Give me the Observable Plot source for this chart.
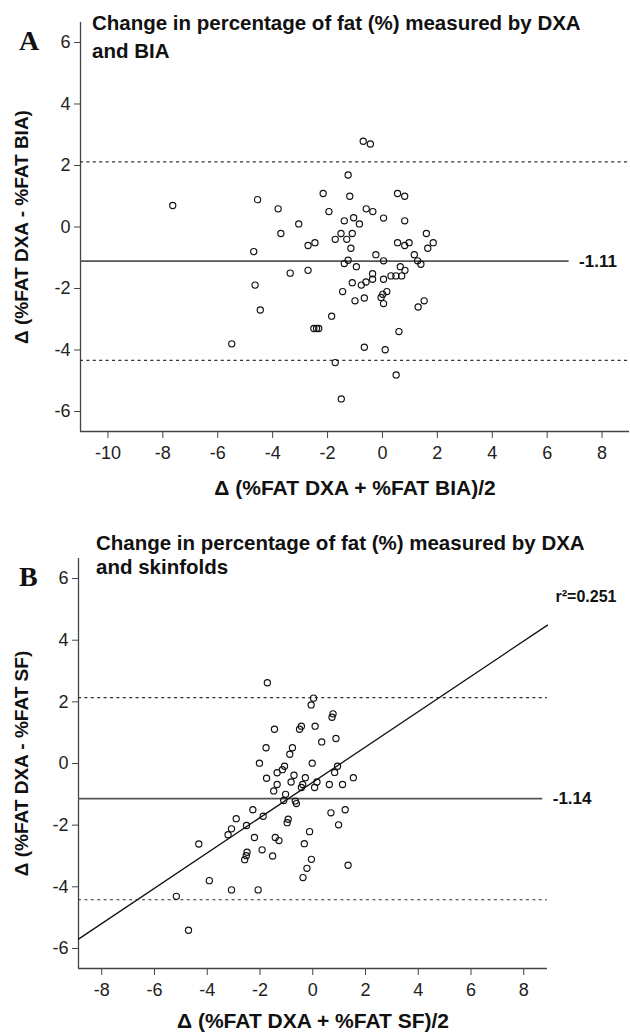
<!DOCTYPE html>
<html>
<head>
<meta charset="utf-8">
<script src="https://cdn.jsdelivr.net/npm/d3@7"></script>
<script src="https://cdn.jsdelivr.net/npm/@observablehq/plot@0.6"></script>
<style>
  html, body { margin: 0; padding: 0; background: #fff; }
  #page { position: relative; width: 630px; height: 1032px; overflow: hidden; background: #fff; }
  .panel { position: absolute; left: 0; }
  .title { position: absolute; font-family: "Liberation Sans", Arial, sans-serif; font-weight: bold; font-size: 20.5px; color: #111; white-space: nowrap; }
  .letter { position: absolute; font-family: "Liberation Serif", "Times New Roman", serif; font-weight: bold; font-size: 28px; color: #111; line-height: 1; }
</style>
</head>
<body>
<div id="page">
  <div class="panel" id="panelA" style="top:0px"></div>
  <div class="panel" id="panelB" style="top:505px"></div>
  <div class="letter" style="left:19px; top:27px">A</div>
  <div class="title" style="left:92px; top:9px; line-height:28px">Change in percentage of fat (%) measured by DXA<br>and BIA</div>
  <div class="letter" style="left:19px; top:563px">B</div>
  <div class="title" style="left:96px; top:531px; line-height:24px">Change in percentage of fat (%) measured by DXA<br>and skinfolds</div>
</div>
<script>
// ---------- data ----------
const yTicks = [-6, -4, -2, 0, 2, 4, 6];
const yDomain = [-6.65, 6.65];

// Panel A: DXA vs BIA
const xTicksA = [-10, -8, -6, -4, -2, 0, 2, 4, 6, 8];
const xDomainA = [-11, 9];
const pointsA = [
  [-7.64,0.70],[-5.49,-3.80],[-4.55,0.89],[-4.69,-0.80],[-4.64,-1.89],[-4.45,-2.70],
  [-3.80,0.59],[-3.70,-0.21],[-3.36,-1.50],[-3.05,0.10],[-2.71,-0.60],[-2.71,-1.41],
  [-2.46,-0.51],[-2.50,-3.30],[-2.40,-3.30],[-2.32,-3.30],[-2.16,1.09],[-1.95,0.50],
  [-1.85,-2.90],[-1.72,-0.40],[-1.72,-4.41],[-1.51,-0.21],[-1.50,-5.59],[-1.45,-2.10],
  [-1.39,0.20],[-1.39,-1.19],[-1.30,-0.40],[-1.25,1.69],[-1.25,-1.08],[-1.19,1.00],
  [-1.15,-0.69],[-1.10,-0.21],[-1.10,-1.81],[-1.05,0.30],[-1.00,-2.40],[-0.95,-1.29],
  [-0.84,0.10],[-0.77,-1.89],[-0.70,2.79],[-0.66,-2.31],[-0.66,-3.91],[-0.60,-1.79],
  [-0.59,0.59],[-0.44,2.70],[-0.36,-1.52],[-0.36,-1.70],[-0.35,0.50],[-0.24,-0.90],
  [-0.05,-2.29],[0.01,-2.19],[0.04,0.29],[0.04,-1.10],[0.04,-1.70],[0.04,-2.49],
  [0.10,-3.99],[0.16,-2.10],[0.31,-1.59],[0.49,-1.59],[0.50,-4.81],[0.55,1.09],
  [0.55,-0.51],[0.60,-3.40],[0.65,-1.29],[0.70,-1.59],[0.81,1.00],[0.81,0.20],
  [0.81,-0.60],[0.82,-1.41],[0.97,-0.51],[1.16,-0.90],[1.28,-1.10],[1.30,-2.60],
  [1.40,-1.21],[1.52,-2.40],[1.60,-0.21],[1.65,-0.69],[1.85,-0.51]
];
const meanA = -1.11, upperA = 2.12, lowerA = -4.34, meanEndA = 6.8;
const meanLabelA = "-1.11";
const xTitleA = "\u0394 (%FAT DXA + %FAT BIA)/2";
const yTitleA = "\u0394 (%FAT DXA - %FAT BIA)";

// Panel B: DXA vs skinfolds
const xTicksB = [-8, -6, -4, -2, 0, 2, 4, 6, 8];
const xDomainB = [-8.88, 8.9];
const pointsB = [
  [-5.17,-4.31],[-4.71,-5.41],[-4.32,-2.61],[-3.92,-3.80],[-3.21,-2.31],[-3.08,-2.12],
  [-3.08,-4.10],[-2.90,-1.79],[-2.58,-3.12],[-2.52,-2.99],[-2.49,-2.88],[-2.51,-2.01],
  [-2.27,-1.50],[-2.21,-2.40],[-2.07,-4.10],[-2.02,0.01],[-1.92,-2.80],[-1.88,-1.71],
  [-1.77,0.51],[-1.75,-0.48],[-1.72,2.62],[-1.52,-3.00],[-1.48,-0.89],[-1.45,1.11],
  [-1.42,-2.40],[-1.35,-0.30],[-1.35,-0.68],[-1.28,-2.50],[-1.15,-0.20],[-1.10,-1.20],
  [-1.07,-0.09],[-1.03,-1.00],[-0.97,-1.92],[-0.93,-1.81],[-0.87,0.30],[-0.82,-0.60],
  [-0.77,0.51],[-0.71,-0.38],[-0.66,-1.22],[-0.62,-1.30],[-0.50,1.11],[-0.43,1.21],
  [-0.43,-0.78],[-0.38,-0.68],[-0.37,-3.70],[-0.32,-2.60],[-0.28,-0.46],[-0.22,-3.40],
  [-0.12,-2.21],[-0.06,1.90],[-0.05,-3.11],[-0.02,0.01],[0.03,2.12],[0.07,-0.78],
  [0.09,1.21],[0.16,-0.60],[0.34,0.70],[0.63,-0.68],[0.69,-1.60],[0.73,1.50],
  [0.77,1.61],[0.83,-0.29],[0.88,0.81],[0.94,-0.09],[0.98,-1.99],[1.13,-0.68],
  [1.23,-1.50],[1.34,-3.30],[1.54,-0.46]
];
const meanB = -1.14, upperB = 2.14, lowerB = -4.42, meanEndB = 8.72;
const meanLabelB = "-1.14";
const slopeB = 0.573, interceptB = -0.61;
const r2Label = "r\u00B2=0.251";
const r2Pos = {x: 8.9, y: 5.42};
const xTitleB = "\u0394 (%FAT DXA + %FAT SF)/2";
const yTitleB = "\u0394 (%FAT DXA - %FAT SF)";

// ---------- drawing ----------
const axisColor = "#444";
const fontFamily = "'Liberation Sans', Arial, sans-serif";

function panel(cfg) {
  const pts = cfg.points.map(([x, y]) => ({x, y}));
  const xMin = cfg.xDomain[0], yMin = yDomain[0];
  const marks = [
    Plot.ruleX([xMin], {stroke: axisColor, strokeWidth: 1.3}),
    Plot.ruleY([yMin], {stroke: axisColor, strokeWidth: 1.3}),
    Plot.axisX(cfg.xTicks, {tickSize: 7, tickPadding: 8, label: null, tickFormat: d => String(d), fontSize: 18, stroke: axisColor}),
    Plot.axisY(yTicks, {tickSize: 6, tickPadding: 4, label: null, tickFormat: d => String(d), fontSize: 18, stroke: axisColor}),
    Plot.ruleY([cfg.upper, cfg.lower], {stroke: "#333", strokeWidth: 1.2, strokeDasharray: "3,3.4"}),
    Plot.ruleY([{y: cfg.mean, x1: xMin, x2: cfg.meanEnd}], {y: "y", x1: "x1", x2: "x2", stroke: "#555", strokeWidth: 1.6}),
    Plot.text([{x: cfg.meanEnd, y: cfg.mean, t: cfg.meanLabel}], {x: "x", y: "y", text: "t", dx: 10, textAnchor: "start", fontWeight: "bold", fontSize: 17, fill: "#111"}),
  ];
  if (cfg.reg) {
    const regPts = cfg.xDomain.map(x => ({x, y: cfg.reg.intercept + cfg.reg.slope * x}));
    marks.push(Plot.line(regPts, {x: "x", y: "y", stroke: "#111", strokeWidth: 1.3}));
    marks.push(Plot.text([{x: cfg.reg.labelPos.x, y: cfg.reg.labelPos.y, t: cfg.reg.label}], {x: "x", y: "y", text: "t", dx: 8, textAnchor: "start", fontWeight: "bold", fontSize: 16, fill: "#111"}));
  }
  marks.push(
    Plot.dot(pts, {x: "x", y: "y", r: 3.1, stroke: "#111", strokeWidth: 1.15, fill: "none"}),
    Plot.text([cfg.xTitle], {text: d => d, frameAnchor: "bottom", textAnchor: "middle", lineAnchor: "middle", dy: cfg.xTitleDy, fontWeight: "bold", fontSize: 21, fill: "#111"}),
    Plot.text([cfg.yTitle], {text: d => d, frameAnchor: "left", textAnchor: "middle", lineAnchor: "middle", rotate: -90, dx: cfg.yTitleDx, fontWeight: "bold", fontSize: 19, fill: "#111"})
  );
  return Plot.plot({
    width: 630,
    height: cfg.height,
    marginLeft: cfg.marginLeft,
    marginRight: cfg.marginRight,
    marginTop: cfg.marginTop,
    marginBottom: cfg.marginBottom,
    style: {fontFamily, fontSize: "18px", color: "#222", background: "transparent", overflow: "visible"},
    x: {domain: cfg.xDomain},
    y: {domain: yDomain},
    marks
  });
}

document.getElementById("panelA").appendChild(panel({
  points: pointsA, xDomain: xDomainA, xTicks: xTicksA,
  mean: meanA, upper: upperA, lower: lowerA, meanEnd: meanEndA, meanLabel: meanLabelA,
  xTitle: xTitleA, yTitle: yTitleA,
  height: 505, marginLeft: 80, marginRight: 1, marginTop: 22, marginBottom: 74,
  xTitleDy: 57, yTitleDx: -59
}));

document.getElementById("panelB").appendChild(panel({
  points: pointsB, xDomain: xDomainB, xTicks: xTicksB,
  mean: meanB, upper: upperB, lower: lowerB, meanEnd: meanEndB, meanLabel: meanLabelB,
  reg: {slope: slopeB, intercept: interceptB, label: r2Label, labelPos: r2Pos},
  xTitle: xTitleB, yTitle: yTitleB,
  height: 527, marginLeft: 78, marginRight: 83, marginTop: 53, marginBottom: 64,
  xTitleDy: 53, yTitleDx: -57
}));
</script>
</body>
</html>
